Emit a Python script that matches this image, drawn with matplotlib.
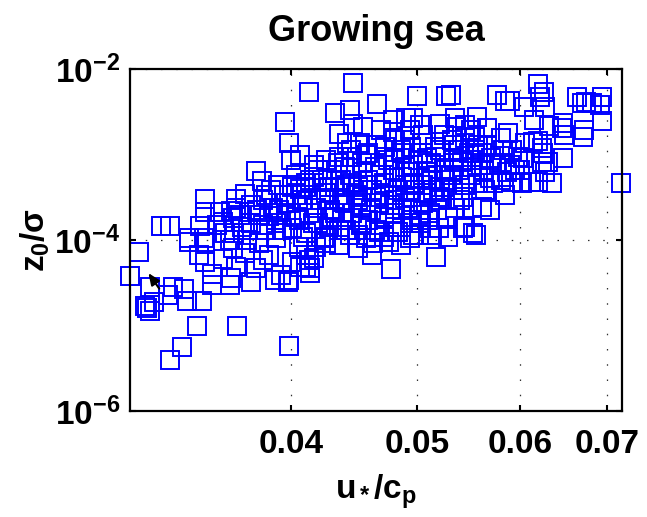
import matplotlib
matplotlib.use("Agg")
import matplotlib.pyplot as plt
from matplotlib.ticker import NullLocator, FixedLocator, FixedFormatter

plt.rcParams['font.family'] = 'Liberation Sans'
plt.rcParams['font.weight'] = 'bold'
plt.rcParams['mathtext.fontset'] = 'custom'
plt.rcParams['mathtext.rm'] = 'Liberation Sans:bold'
plt.rcParams['mathtext.it'] = 'Liberation Sans:bold'
plt.rcParams['mathtext.bf'] = 'Liberation Sans:bold'
plt.rcParams['mathtext.sf'] = 'Liberation Sans:bold'

# u*/cp and z0/sigma
u_cp = [
    0.0306, 0.0301, 0.0312, 0.0325, 0.0322, 0.0331, 0.0333, 0.0342, 0.0314, 0.0309,
    0.0312, 0.0310, 0.0339, 0.0364, 0.0330, 0.0323, 0.0399, 0.0348, 0.0348, 0.0359,
    0.0360, 0.0373, 0.0389, 0.0398, 0.0334, 0.0344, 0.0340, 0.0344, 0.0355, 0.0363,
    0.0376, 0.0381, 0.0361, 0.0369, 0.0385, 0.0393, 0.0414, 0.0411, 0.0413,
    0.0396, 0.0399, 0.0376, 0.0380, 0.0391, 0.0369, 0.0344, 0.0363, 0.0381, 0.0344,
    0.0353, 0.0360, 0.0363, 0.0341, 0.0318, 0.0323, 0.0355, 0.0361, 0.0367, 0.0334,
    0.0343, 0.0388, 0.0392, 0.0397, 0.0385, 0.0390, 0.0394, 0.0383, 0.0362, 0.0371,
    0.0356, 0.0400, 0.0404, 0.0395, 0.0386, 0.0379, 0.0373, 0.0397, 0.0404, 0.0390,
    0.0378, 0.0370,
    0.0413, 0.0447, 0.0500, 0.0527, 0.0433, 0.0444, 0.0466, 0.0436, 0.0447, 0.0455,
    0.0442, 0.0452, 0.0479, 0.0491, 0.0497, 0.0503, 0.0521, 0.0407, 0.0417, 0.0435,
    0.0479, 0.0481, 0.0473, 0.0465, 0.0525, 0.0516, 0.0505, 0.0401, 0.0407,
    0.0420, 0.0430, 0.0440, 0.0454, 0.0464, 0.0479, 0.0490, 0.0501, 0.0513, 0.0525,
    0.0401, 0.0411, 0.0423, 0.0433, 0.0446, 0.0459, 0.0472, 0.0487, 0.0498, 0.0513,
    0.0525, 0.0399, 0.0408, 0.0418, 0.0428, 0.0440, 0.0454, 0.0468, 0.0481, 0.0492,
    0.0506, 0.0518, 0.0406, 0.0416, 0.0428, 0.0438, 0.0454, 0.0464, 0.0481, 0.0494,
    0.0510, 0.0411, 0.0426, 0.0451, 0.0472, 0.0502, 0.0459, 0.0472, 0.0487, 0.0495,
    0.0446, 0.0436, 0.0506, 0.0517, 0.0417, 0.0484, 0.0462, 0.0451, 0.0426, 0.0506,
    0.0520,
    0.0478, 0.0517, 0.0462, 0.0451, 0.0436, 0.0424, 0.0414, 0.0407, 0.0401, 0.0399,
    0.0476, 0.0486, 0.0497, 0.0514, 0.0504, 0.0468, 0.0457, 0.0444, 0.0436, 0.0426,
    0.0418, 0.0406, 0.0411, 0.0417, 0.0401, 0.0409, 0.0404, 0.0413, 0.0420, 0.0430,
    0.0446, 0.0459, 0.0472, 0.0487, 0.0495, 0.0512, 0.0521, 0.0509, 0.0495, 0.0465,
    0.0451, 0.0438, 0.0411, 0.0440, 0.0455, 0.0490, 0.0506, 0.0521,
    0.0620, 0.0626, 0.0622, 0.0627, 0.0604, 0.0615, 0.0632, 0.0664, 0.0670, 0.0675,
    0.0694, 0.0692, 0.0682, 0.0694, 0.0672, 0.0671, 0.0648, 0.0649, 0.0647, 0.0648,
    0.0631, 0.0625, 0.0620, 0.0718, 0.0576, 0.0584, 0.0590, 0.0556, 0.0566, 0.0588,
    0.0606, 0.0614, 0.0624, 0.0624, 0.0580, 0.0582, 0.0592, 0.0603, 0.0627, 0.0635,
    0.0602, 0.0612, 0.0620, 0.0591, 0.0572, 0.0557, 0.0545, 0.0543, 0.0561, 0.0551,
    0.0545, 0.0552, 0.0528, 0.0531, 0.0536, 0.0545, 0.0554, 0.0545, 0.0561, 0.0570,
    0.0581, 0.0563, 0.0551, 0.0539, 0.0533, 0.0539, 0.0548, 0.0587, 0.0598, 0.0566,
    0.0557, 0.0532, 0.0534, 0.0550, 0.0564, 0.0540, 0.0575, 0.0554, 0.0531, 0.0569,
    0.0585, 0.0595, 0.0555, 0.0543, 0.0528,
    0.0481, 0.0492, 0.0510, 0.0533, 0.0472, 0.0455, 0.0444, 0.0503, 0.0535, 0.0520,
    0.0481, 0.0433, 0.0428, 0.0453, 0.0490,
    0.0469, 0.0481, 0.0494, 0.0503, 0.0515, 0.0526, 0.0477, 0.0490, 0.0502, 0.0512,
    0.0461, 0.0449, 0.0437, 0.0422, 0.0429, 0.0441, 0.0453, 0.0463, 0.0484, 0.0494,
    0.0475, 0.0486, 0.0497, 0.0509, 0.0521, 0.0534, 0.0542, 0.0550, 0.0560, 0.0569,
    0.0580, 0.0590, 0.0600, 0.0535, 0.0550, 0.0506, 0.0494, 0.0469, 0.0457, 0.0445,
    0.0426, 0.0414,
    0.0377, 0.0383, 0.0373, 0.0366, 0.0351, 0.0359, 0.0381,
]
z0_sigma = [
    7.2e-5, 3.8e-5, 2.8e-5, 2.8e-5, 2.3e-5, 2.7e-5, 1.95e-5, 1.95e-5, 1.9e-5, 1.67e-5,
    1.48e-5, 1.6e-5, 1.0e-5, 1.0e-5, 5.6e-6, 4.0e-6, 5.75e-6, 3.0e-5, 4.0e-5, 3.0e-5,
    3.6e-5, 3.2e-5, 3.4e-5, 3.2e-5, 9.5e-5, 9.5e-5, 6.7e-5, 5.6e-5, 6.0e-5, 4.8e-5,
    4.7e-5, 5.8e-5, 8.1e-5, 7.0e-5, 6.7e-5, 3.9e-5, 4.1e-5, 4.8e-5, 5.8e-5,
    2.4e-3, 1.36e-3, 6.4e-4, 4.9e-4, 4.4e-4, 3.5e-4, 3.0e-4, 3.0e-4, 2.9e-4, 2.1e-4,
    2.1e-4, 2.2e-4, 2.4e-4, 1.46e-4, 1.46e-4, 1.46e-4, 1.62e-4, 1.8e-4, 1.42e-4, 1.05e-4,
    1.05e-4, 2.4e-4, 2.24e-4, 2.7e-4, 1.9e-4, 1.6e-4, 1.31e-4, 1.31e-4, 1.2e-4, 1.31e-4,
    1.2e-4, 8.6e-4, 5.8e-4, 3.4e-4, 3.85e-4, 1.96e-4, 1.6e-4, 1.96e-4, 3.4e-4, 1.05e-4,
    9.2e-5, 1.0e-4,
    5.4e-3, 6.8e-3, 4.9e-3, 4.9e-3, 3.1e-3, 3.3e-3, 3.9e-3, 1.75e-3, 2.3e-3, 2.1e-3,
    1.37e-3, 1.37e-3, 2.53e-3, 2.65e-3, 2.65e-3, 2.2e-3, 2.3e-3, 9.9e-4, 7.5e-4, 7.9e-4,
    1.83e-3, 1.48e-3, 1.23e-3, 1.29e-3, 1.69e-3, 1.23e-3, 1.37e-3, 4.4e-4, 4.0e-4,
    6.6e-4, 6.6e-4, 7.2e-4, 7.9e-4, 7.2e-4, 6.6e-4, 7.2e-4, 8.6e-4, 7.9e-4, 6.6e-4,
    4.2e-4, 4.6e-4, 5.0e-4, 4.2e-4, 4.6e-4, 5.0e-4, 4.6e-4, 5.5e-4, 4.6e-4, 5.0e-4,
    4.2e-4, 2.7e-4, 2.94e-4, 2.4e-4, 2.94e-4, 2.7e-4, 3.2e-4, 2.7e-4, 2.94e-4, 2.4e-4,
    2.7e-4, 2.24e-4, 1.71e-4, 1.58e-4, 1.42e-4, 1.71e-4, 1.58e-4, 1.31e-4, 1.42e-4, 1.58e-4,
    1.71e-4, 1.2e-4, 1.08e-4, 1.14e-4, 1.08e-4, 1.14e-4, 1.04e-3, 9.4e-4, 1.04e-3, 1.23e-3,
    9.4e-4, 9.4e-4, 1.04e-3, 9.4e-4, 5.5e-4, 3.85e-4, 3.85e-4, 4.2e-4, 3.55e-4, 3.55e-4,
    3.2e-4,
    4.6e-5, 6.3e-5, 6.7e-5, 8.1e-5, 8.7e-5, 1.05e-4, 4.7e-5, 4.8e-5, 5.5e-5, 3.4e-5,
    9.5e-5, 8.7e-5, 1.14e-4, 1.14e-4, 1.58e-4, 1.24e-4, 1.05e-4, 1.14e-4, 1.31e-4, 9.2e-5,
    8.3e-5, 8.3e-5, 6.7e-5, 6.2e-5, 1.38e-4, 1.08e-4, 1.86e-4, 2.07e-4, 1.58e-4, 1.86e-4,
    2.07e-4, 1.71e-4, 1.86e-4, 2.24e-4, 1.71e-4, 2.07e-4, 2.94e-4, 3.55e-4, 3.15e-4, 3.15e-4,
    2.94e-4, 2.94e-4, 4.2e-4, 4.2e-4, 4.4e-4, 4.4e-4, 4.4e-4, 4.2e-4,
    6.6e-3, 5.4e-3, 4.7e-3, 3.6e-3, 3.6e-3, 2.53e-3, 2.16e-3, 4.7e-3, 4.0e-3, 4.1e-3,
    4.7e-3, 3.8e-3, 4.0e-3, 2.45e-3, 1.94e-3, 1.6e-3, 2.35e-3, 1.69e-3, 2.05e-3, 9.1e-4,
    8.2e-4, 1.05e-3, 1.43e-3, 4.6e-4, 5.0e-3, 4.2e-3, 4.2e-3, 2.75e-3, 2.05e-3, 1.8e-3,
    1.36e-3, 1.4e-3, 1.18e-3, 8.2e-4, 1.57e-3, 1.13e-3, 1.13e-3, 9.1e-4, 6.3e-4, 4.6e-4,
    4.6e-4, 4.8e-4, 4.8e-4, 4.8e-4, 4.6e-4, 4.6e-4, 4.4e-4, 3.2e-4, 2.45e-4, 2.4e-4,
    1.42e-4, 1.2e-4, 1.86e-4, 5.0e-3, 2.1e-3, 2.21e-3, 1.6e-3, 1.57e-3, 1.04e-3, 9.1e-4,
    8.0e-4, 6.6e-4, 7.2e-4, 6.6e-4, 9.1e-4, 1.13e-3, 1.04e-3, 6.3e-4, 9.3e-4, 1.29e-3,
    1.29e-3, 1.48e-3, 8.6e-4, 5.8e-4, 3.85e-4, 2.94e-4, 7.5e-4, 1.13e-3, 5.8e-4, 2.24e-4,
    3.36e-4, 6.6e-4, 1.14e-4, 1.38e-4, 1.08e-4,
    8.6e-4, 6.3e-4, 6.3e-4, 3.85e-4, 3.36e-4, 6.3e-4, 5.8e-4, 2.24e-4, 2.4e-4, 1.38e-4,
    2.07e-4, 2.07e-4, 4.2e-4, 2.4e-4, 1.48e-3,
    5.76e-4, 5.3e-4, 3.85e-4, 5.3e-4, 3.85e-4, 5.03e-4, 2.57e-4, 3.1e-4, 1.96e-4, 1.38e-4,
    2.24e-4, 3.36e-4, 5.03e-4, 2.94e-4, 2.24e-4, 1.31e-4, 1.5e-4, 9.2e-5, 1.24e-4, 1.05e-4,
    8.6e-4, 1.13e-3, 7.5e-4, 9.1e-4, 1.13e-3, 1.29e-3, 8.2e-4, 8.6e-4, 7.5e-4, 5.3e-4,
    5.0e-4, 7.5e-4, 6.6e-4, 2.65e-3, 1.94e-3, 1.69e-3, 1.94e-3, 1.94e-3, 9.9e-4, 1.13e-3,
    8.6e-4, 5.0e-4,
    2.24e-4, 3.36e-4, 2.57e-4, 1.96e-4, 1.5e-4, 1.0e-4, 1.5e-4,
]

x_ticks = [0.04, 0.05, 0.06, 0.07]
x_tick_labels = ['0.04', '0.05', '0.06', '0.07']
y_ticks = [1e-6, 1e-4, 1e-2]
y_tick_labels = [r'$\mathbf{10^{-6}}$', r'$\mathbf{10^{-4}}$', r'$\mathbf{10^{-2}}$']

# small black pointer left on the figure (tip and tail)
cursor_tip = (0.0311, 4.1e-5)
cursor_tail = (0.0317, 2.7e-5)

fig = plt.figure(figsize=(6.47, 5.17), dpi=100)
ax = fig.add_axes([0.2009, 0.205, 0.7605, 0.6615])

ax.plot(u_cp, z0_sigma, 's', ls='none', markersize=12.5, markerfacecolor='none',
        markeredgecolor='#0000ff', markeredgewidth=1.4, clip_on=False)
ax.annotate('', xy=cursor_tip, xytext=cursor_tail,
            arrowprops=dict(arrowstyle='-|>,head_length=0.7,head_width=0.3',
                            color='black', lw=1.5, shrinkA=0, shrinkB=0))

ax.set_xscale('log')
ax.set_yscale('log')
ax.set_xlim(0.0301, 0.0719)
ax.set_ylim(1e-6, 1e-2)

ax.xaxis.set_major_locator(FixedLocator(x_ticks))
ax.xaxis.set_major_formatter(FixedFormatter(x_tick_labels))
ax.xaxis.set_minor_locator(NullLocator())
ax.yaxis.set_major_locator(FixedLocator(y_ticks))
ax.yaxis.set_major_formatter(FixedFormatter(y_tick_labels))
ax.yaxis.set_minor_locator(NullLocator())

ax.grid(True, color='#303030', linestyle=(0, (1.2, 11)), linewidth=0.9)
ax.set_axisbelow(True)

ax.tick_params(direction='in', top=True, right=True, length=4, width=1.5, labelsize=24)
ax.tick_params(axis='x', pad=13)
ax.tick_params(axis='y', pad=7)
for s in ax.spines.values():
    s.set_linewidth(1.6)

ax.set_title('Growing sea', fontsize=26, fontweight='bold', pad=20)
ax.set_xlabel(r'$u_*/c_p$', fontsize=24, labelpad=9)
ax.set_ylabel(r'$z_0/\sigma$', fontsize=24, labelpad=2)

fig.savefig('out.png', dpi=100)
